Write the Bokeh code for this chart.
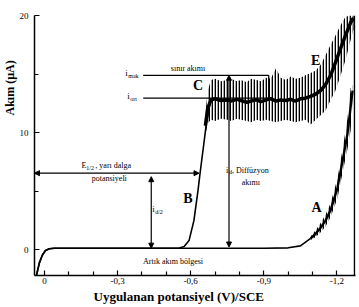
import math
from bokeh.plotting import figure
from bokeh.models import (Range1d, FixedTicker, Label, Arrow, NormalHead, Span,
                          CustomJSTickFormatter, Title)
from bokeh.embed import file_html
from bokeh.resources import INLINE

# ---------------- data ----------------
# residual current curve (A): smooth part
x_res = [0.033, 0.021, 0.009, -0.004, -0.02, -0.04, -0.3, -0.6, -0.9, -1.00, -1.05, -1.092]
y_res = [-2.18, -1.10, -0.45, -0.05, 0.10, 0.15, 0.15, 0.15, 0.15, 0.18, 0.35, 0.98]
# residual current curve (A): oscillating rise
x_res_rise = [-1.092, -1.113, -1.133, -1.153, -1.174, -1.202, -1.223, -1.243, -1.256, -1.264]
y_res_rise = [0.98, 1.4, 1.9, 2.5, 3.4, 5.3, 7.6, 9.9, 12.2, 13.6]
y_res_hi = [1.15, 1.7, 2.3, 3.0, 4.0, 6.1, 8.6, 11.2, 13.8, 14.1]
y_res_lo = [0.85, 1.1, 1.5, 2.0, 2.8, 4.4, 6.6, 8.6, 10.2, 12.6]

# sample curve (B): baseline and wave
x_smp = [0.033, 0.021, 0.009, -0.004, -0.02, -0.04, -0.3, -0.55, -0.573, -0.593,
         -0.613, -0.630, -0.638, -0.654, -0.663, -0.675, -0.683]
y_smp = [-2.18, -1.10, -0.45, -0.05, 0.10, 0.15, 0.15, 0.15, 0.30, 0.80,
         2.5, 5.1, 6.5, 9.1, 10.6, 12.1, 12.8]

# sample curve (C, E): oscillating plateau and final rise
x_plat = [-0.660, -0.670, -0.683, -0.70, -0.724, -0.75, -0.765, -0.79, -0.806, -0.83,
          -0.847, -0.87, -0.888, -0.91, -0.928, -0.95, -0.969, -0.99, -1.010, -1.03,
          -1.051, -1.07, -1.092, -1.113, -1.133, -1.153, -1.174, -1.194, -1.215, -1.235,
          -1.256, -1.268]
y_plat = [10.6, 12.1, 12.8, 12.9, 12.75, 12.8, 12.7, 12.85, 12.75, 12.6,
          12.7, 12.8, 12.65, 12.8, 12.9, 12.7, 12.8, 12.75, 12.85, 12.7,
          12.9, 12.95, 13.1, 13.3, 13.6, 14.1, 14.9, 16.0, 17.2, 18.3,
          19.4, 19.8]
y_plat_hi = [11.6, 13.6, 14.5, 14.6, 14.4, 14.5, 14.6, 14.4, 14.5, 14.3,
             14.6, 14.5, 14.4, 14.7, 14.6, 15.5, 14.7, 14.5, 14.8, 14.6,
             14.7, 14.9, 15.1, 15.3, 15.8, 16.6, 17.5, 18.3, 19.2, 19.9,
             20.0, 20.0]
y_plat_lo = [9.8, 10.8, 11.1, 11.0, 11.2, 11.1, 11.0, 11.2, 11.1, 11.0,
             10.9, 11.1, 11.0, 11.1, 11.0, 10.9, 11.0, 11.1, 11.0, 10.9,
             11.0, 11.1, 10.7, 11.1, 11.5, 11.9, 12.8, 13.6, 14.9, 16.2,
             17.9, 18.8]

# characteristic values marked on the chart
i_mak = 14.9        # maximum current
i_ort = 12.95       # mean current
i_base = 0.15       # residual current level
e_half = -0.634     # half-wave potential
i_half = 6.55       # i_d / 2 level
x_id = -0.757       # where i_d arrow is drawn
x_half = -0.438     # where i_d/2 arrow is drawn
x_brk = [-0.405, -0.920]

x_ticks = [0, -0.3, -0.6, -0.9, -1.2]
x_minor = [-0.1, -0.2, -0.4, -0.5, -0.7, -0.8, -1.0, -1.1]
y_ticks = [0, 10, 20]
y_minor = [5, 15]

FONT = "Liberation Serif"

# ---------------- figure ----------------
X0, X1 = 0.041, -1.276
Y0, Y1 = -2.18, 20.0
p = figure(width=359, height=307, output_backend="svg", toolbar_location=None,
           x_range=Range1d(X0, X1), y_range=Range1d(Y0, Y1),
           min_border_left=33, min_border_right=4, min_border_top=15,
           min_border_bottom=32)
p.background_fill_color = "white"
p.border_fill_color = "white"
p.outline_line_color = None
p.xgrid.visible = False
p.ygrid.visible = False

# helpers to place annotation texts by picture position
def X(px):
    return -(px - 43) / 244.5

def Y(py):
    return (249.5 - py) / 11.7

# axes
for ax in (p.xaxis[0], p.yaxis[0]):
    ax.axis_line_width = 1.5
    ax.axis_line_color = "black"
    ax.major_tick_in = 5
    ax.major_tick_out = 0
    ax.minor_tick_in = 4
    ax.minor_tick_out = 0
    ax.major_tick_line_width = 1.2
    ax.minor_tick_line_width = 1.2
    ax.major_label_text_font = FONT
    ax.major_label_text_font_size = "9px"
    ax.major_label_text_color = "black"
p.xaxis.ticker = FixedTicker(ticks=x_ticks, minor_ticks=x_minor)
p.yaxis.ticker = FixedTicker(ticks=y_ticks, minor_ticks=y_minor)
p.xaxis.formatter = CustomJSTickFormatter(
    code="return tick == 0 ? '0' : tick.toFixed(1).replace('.', ',');")
p.xaxis.major_label_standoff = 2
p.yaxis.major_label_standoff = 6

# axis titles (as titles so they can be shifted off-centre like the original)
p.add_layout(Title(text="Uygulanan potansiyel (V)/SCE", align="left", offset=59,
                   text_font=FONT, text_font_size="13px", text_font_style="bold",
                   text_color="black", standoff=0), "below")
p.add_layout(Title(text="Akım (µA)", align="left", offset=160,
                   text_font=FONT, text_font_size="12px", text_font_style="bold",
                   text_color="black", standoff=0), "left")

p.add_layout(Span(location=-1.272, dimension="height", line_color="black", line_width=1.5))

# ---------------- curves ----------------
p.line(x_res, y_res, line_color="black", line_width=1.6)
p.varea(x=x_res_rise, y1=y_res_lo, y2=y_res_hi, fill_alpha=0,
        hatch_pattern="|", hatch_color="black", hatch_scale=3, hatch_weight=1.7)
p.line(x_res_rise, y_res_rise, line_color="black", line_width=2.4)

p.line(x_smp, y_smp, line_color="black", line_width=1.6)
p.varea(x=x_plat, y1=y_plat_lo, y2=y_plat_hi, fill_alpha=0,
        hatch_pattern="|", hatch_color="black", hatch_scale=3, hatch_weight=1.7)
p.line(x_plat, y_plat, line_color="black", line_width=3.5)

# bracket lines i_mak / i_ort
p.line(x_brk, [i_mak, i_mak], line_color="black", line_width=1.3)
p.line(x_brk, [i_ort, i_ort], line_color="black", line_width=1.3)
p.line([x_brk[1], x_brk[1]], [i_ort, i_mak], line_color="black", line_width=1.3)

# arrows
def arrow(xs, ys, xe, ye):
    p.add_layout(Arrow(x_start=xs, y_start=ys, x_end=xe, y_end=ye,
                       line_color="black", line_width=1.2,
                       start=NormalHead(size=5, fill_color="black", line_color="black"),
                       end=NormalHead(size=5, fill_color="black", line_color="black")))

arrow(X0, i_half, e_half, i_half)
arrow(x_half, i_base, x_half, i_half - 0.3)
arrow(x_id, i_base + 0.1, x_id, i_mak)

# ---------------- texts ----------------
def txt(px, py, s, size=8, bold=False, align="left", angle=0.0):
    p.add_layout(Label(x=X(px), y=Y(py), text=s, text_font=FONT,
                       text_font_size=f"{size}px", text_color="black",
                       text_font_style="bold" if bold else "normal",
                       text_align=align, text_baseline="middle", angle=angle))

txt(124, 73, "i", size=9)
txt(127, 76, "mak", size=6)
txt(126, 96, "i", size=9)
txt(129, 99, "ort", size=6)
txt(187, 68, "sınır akımı", size=8, align="center")

txt(80, 165, "E", size=8)
txt(85, 168, "1/2", size=6)
txt(94, 165, ", yarı dalga", size=8)
txt(108, 178, "potansiyeli", size=8, align="center")

txt(151, 209, "i", size=9)
txt(154, 212, "d/2", size=6)

txt(225, 170, "i", size=8)
txt(228, 172, "d", size=6)
txt(231, 170, ", Diffüzyon", size=8)
txt(250, 182, "akımı", size=8, align="center")

txt(172, 261, "Artık akım bölgesi", size=8, align="center")

txt(197, 85, "C", size=14, bold=True, align="center")
txt(187, 198, "B", size=14, bold=True, align="center")
txt(315, 60, "E", size=14, bold=True, align="center")
txt(316, 207, "A", size=14, bold=True, align="center")

open("out.html", "w").write(file_html(p, INLINE))
